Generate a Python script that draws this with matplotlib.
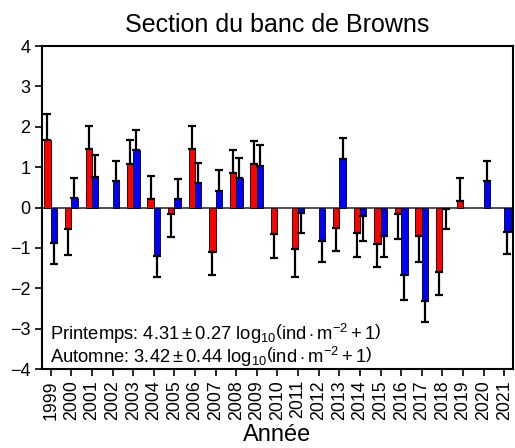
import numpy as np
import matplotlib.pyplot as plt

plt.rcParams['font.family'] = ['Liberation Sans', 'DejaVu Sans']
plt.rcParams['mathtext.fontset'] = 'custom'
plt.rcParams['mathtext.rm'] = 'Liberation Sans'
plt.rcParams['mathtext.it'] = 'Liberation Sans:italic'

years = np.arange(1999, 2022)
nan = np.nan
# spring (red) and autumn (blue) anomalies, log10(ind m-2 + 1)
printemps = [1.68, -0.54, 1.44, nan, 1.09, 0.20, -0.15, 1.44, -1.10, 0.85, 1.07, -0.66,
             -1.03, nan, -0.51, -0.64, -0.91, -0.16, -0.71, -1.60, 0.15, nan, nan]
printemps_err = [0.63, 0.63, 0.59, nan, 0.58, 0.57, 0.57, 0.59, 0.58, 0.57, 0.58, 0.58,
                 0.69, nan, 0.57, 0.58, 0.57, 0.63, 0.64, 0.56, 0.58, nan, nan]
automne = [-0.89, 0.23, 0.76, 0.66, 1.42, -1.21, 0.21, 0.60, 0.42, 0.72, 1.03, nan,
           -0.13, -0.84, 1.20, -0.22, -0.71, -1.68, -2.31, -0.03, nan, 0.65, -0.60]
automne_err = [0.51, 0.51, 0.54, 0.50, 0.50, 0.50, 0.50, 0.51, 0.50, 0.51, 0.52, nan,
               0.51, 0.50, 0.51, 0.61, 0.51, 0.61, 0.53, 0.49, nan, 0.50, 0.55]

def one_sided(vals, errs):
    # error bar only on the outer side of each bar
    vals = np.array(vals)
    errs = np.array(errs)
    lo = np.where(vals < 0, errs, 0)
    hi = np.where(vals >= 0, errs, 0)
    return [lo, hi]

fig = plt.figure(figsize=(5.15, 4.48), dpi=100)
ax = fig.add_axes([0.0816, 0.1763, 0.914, 0.721])

w = 0.31
ax.bar(years - w/2, printemps, width=w, color='#ff0000', edgecolor='black', linewidth=0.6, zorder=2)
ax.bar(years + w/2, automne, width=w, color='#0000ff', edgecolor='black', linewidth=0.6, zorder=2)
ax.errorbar(years - w/2, printemps, yerr=one_sided(printemps, printemps_err), fmt='none',
            ecolor='black', elinewidth=1.6, capsize=2.6, capthick=1.6, zorder=3)
ax.errorbar(years + w/2, automne, yerr=one_sided(automne, automne_err), fmt='none',
            ecolor='black', elinewidth=1.6, capsize=2.6, capthick=1.6, zorder=3)
ax.axhline(0, color='#333333', linewidth=1.2, zorder=1)

ax.set_xlim(1998.58, 2021.41)
ax.set_ylim(-4, 4)
ax.set_xticks(years)
ax.set_xticklabels([str(y) for y in years], rotation=90, fontsize=12.8)
ax.set_yticks(range(-4, 5))
ax.tick_params(axis='y', labelsize=13, length=5, width=1.2, direction='out')
ax.tick_params(axis='x', length=5, width=1.2, direction='out', pad=3)
for s in ax.spines.values():
    s.set_linewidth(1.5)

ax.set_title('Section du banc de Browns', fontsize=18, pad=10)
ax.set_xlabel('Année', fontsize=17, labelpad=3)

ax.text(0.018, 0.09, r'Printemps: $4.31\pm0.27\ \log_{10}\!\left(\mathrm{ind}\cdot\mathrm{m}^{-2}+1\right)$',
        transform=ax.transAxes, fontsize=13.2)
ax.text(0.018, 0.019, r'Automne: $3.42\pm0.44\ \log_{10}\!\left(\mathrm{ind}\cdot\mathrm{m}^{-2}+1\right)$',
        transform=ax.transAxes, fontsize=13.2)

fig.savefig('out.png', dpi=100)
